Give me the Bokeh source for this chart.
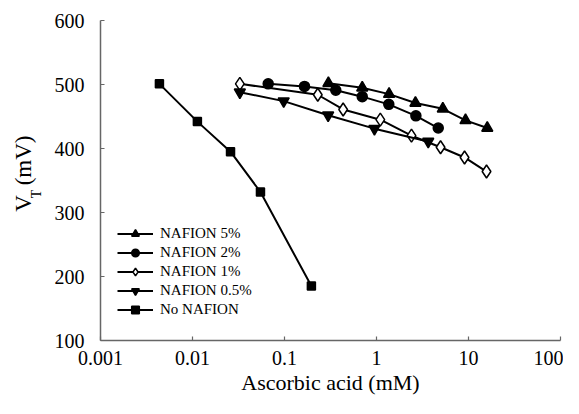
import math
from bokeh.plotting import figure
from bokeh.layouts import row
from bokeh.models import (Range1d, FixedTicker, CustomJSTickFormatter, Legend,
                          LegendItem, Label, ColumnDataSource)
from bokeh.embed import file_html
from bokeh.resources import INLINE

# ---------------- data ----------------
x_5 = [0.30, 0.70, 1.37, 2.65, 5.26, 9.28, 16.0]
y_5 = [502, 495, 485, 471, 462, 444, 432]

x_2 = [0.0665, 0.165, 0.361, 0.70, 1.36, 2.68, 4.69]
y_2 = [501, 497, 491, 481, 469, 451, 432]

x_1 = [0.0327, 0.230, 0.434, 1.10, 2.40, 4.97, 9.06, 15.7]
y_1 = [501, 484, 461, 445, 420, 402, 386, 364]

x_05 = [0.0327, 0.098, 0.298, 0.95, 3.65]
y_05 = [488, 474, 452, 431, 411]

x_0 = [0.00437, 0.0113, 0.0259, 0.0548, 0.196]
y_0 = [501, 442, 395, 332, 185]

x_ticks = [0.001, 0.01, 0.1, 1, 10, 100]
y_ticks = [100, 200, 300, 400, 500, 600]

FONT = "Liberation Serif"
TOTAL_W, TOTAL_H = 563, 398
YLAB_W = 46          # strip holding the rotated y title
MAIN_W = TOTAL_W - YLAB_W

# ---------------- main plot ----------------
p = figure(width=MAIN_W, height=TOTAL_H, x_axis_type="log",
           x_range=Range1d(0.001, 100), y_range=Range1d(100, 600),
           output_backend="svg", toolbar_location=None,
           min_border_left=100 - YLAB_W, min_border_right=3,
           min_border_top=20, min_border_bottom=TOTAL_H - 340)
p.outline_line_color = None
p.grid.visible = False
p.background_fill_color = "white"
p.border_fill_color = "white"

for ax in (p.xaxis[0], p.yaxis[0]):
    ax.axis_line_color = "#666666"
    ax.axis_line_width = 1.5
    ax.major_tick_line_color = "#666666"
    ax.major_tick_line_width = 1.2
    ax.major_tick_in = 4
    ax.major_tick_out = 0
    ax.minor_tick_line_color = None
    ax.major_label_text_font = FONT
    ax.major_label_text_color = "black"

p.xaxis.ticker = FixedTicker(ticks=x_ticks)
p.xaxis.formatter = CustomJSTickFormatter(code="return tick.toString();")
p.xaxis.major_label_text_font_size = "20px"
p.xaxis.major_label_standoff = 10
p.xaxis.axis_label = "Ascorbic acid (mM)"
p.xaxis.axis_label_text_font = FONT
p.xaxis.axis_label_text_font_style = "normal"
p.xaxis.axis_label_text_font_size = "22px"
p.xaxis.axis_label_text_color = "black"
p.xaxis.axis_label_standoff = 2

p.yaxis.ticker = FixedTicker(ticks=y_ticks)
p.yaxis.major_label_text_font_size = "20px"
p.yaxis.major_label_standoff = 16

series = [
    ("NAFION 5%", x_5, y_5, "triangle", "black", 11),
    ("NAFION 2%", x_2, y_2, "circle", "black", 10),
    ("NAFION 1%", x_1, y_1, "diamond", "white", 13),
    ("NAFION 0.5%", x_05, y_05, "inverted_triangle", "black", 11),
    ("No NAFION", x_0, y_0, "square", "black", 8),
]

items = []
for name, xs, ys, marker, fill, size in series:
    src = ColumnDataSource(dict(x=xs, y=ys))
    l = p.line("x", "y", source=src, line_color="black", line_width=2)
    s = p.scatter("x", "y", source=src, marker=marker, size=size,
                  fill_color=fill, line_color="black", line_width=1.5)
    items.append(LegendItem(label=name, renderers=[l, s]))

legend = Legend(items=items, location=(17, 21),
                border_line_color=None, background_fill_alpha=0,
                padding=0, margin=0, spacing=0,
                glyph_width=36, glyph_height=19, label_height=19,
                label_standoff=7,
                label_text_font=FONT, label_text_font_size="15px",
                label_text_color="black")
p.add_layout(legend, "center")

# ---------------- y title strip: "V_T (mV)" ----------------
ylab = figure(width=YLAB_W, height=TOTAL_H, x_range=Range1d(0, YLAB_W),
              y_range=Range1d(0, TOTAL_H), output_backend="svg",
              toolbar_location=None, x_axis_location=None,
              y_axis_location=None, min_border=0)
ylab.outline_line_color = None
ylab.grid.visible = False
ylab.background_fill_color = "white"
ylab.border_fill_color = "white"

half_pi = math.pi / 2
ylab.add_layout(Label(x=23, y=TOTAL_H - 238, text="V", angle=half_pi,
                      text_align="left", text_baseline="middle",
                      text_font=FONT, text_font_size="23px",
                      text_color="black"))
ylab.add_layout(Label(x=36, y=TOTAL_H - 221, text="T", angle=half_pi,
                      text_align="left", text_baseline="middle",
                      text_font=FONT, text_font_size="14px",
                      text_color="black"))
ylab.add_layout(Label(x=23, y=TOTAL_H - 205, text="(mV)", angle=half_pi,
                      text_align="left", text_baseline="middle",
                      text_font=FONT, text_font_size="23px",
                      text_color="black"))

layout = row(ylab, p, spacing=0)

open("out.html", "w").write(file_html(layout, INLINE))
